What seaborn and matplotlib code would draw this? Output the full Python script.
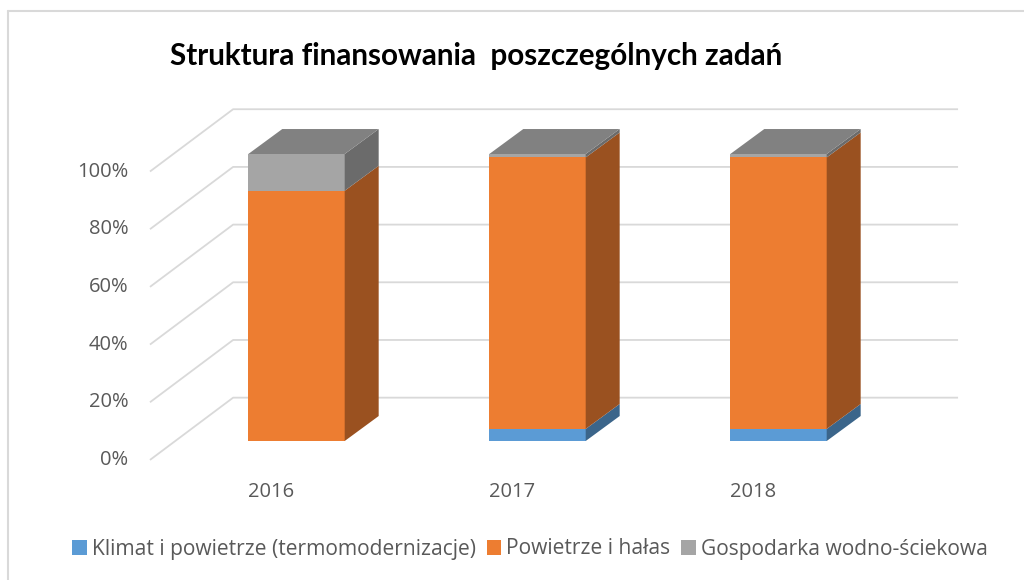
import matplotlib
matplotlib.use("Agg")
import matplotlib.pyplot as plt
import seaborn as sns
import numpy as np
from matplotlib.patches import Patch
from matplotlib.lines import Line2D

# -----------------------------
# Data (percent share per year)
# -----------------------------
years = ["2016", "2017", "2018"]
klimat = [0.0, 4.2, 4.2]
powietrze = [87.2, 94.6, 94.6]
gospodarka = [12.8, 1.2, 1.2]
series_names = ["Klimat i powietrze (termomodernizacje)", "Powietrze i hałas", "Gospodarka wodno-ściekowa"]
tick_values = [0, 20, 40, 60, 80, 100]
tick_labels = ["0%", "20%", "40%", "60%", "80%", "100%"]

colors = ["#5B9BD5", "#ED7D31", "#A5A5A5"]

sns.set_style("white")
plt.rcParams['font.family'] = ["Open Sans", "DejaVu Sans"]


def shade(c, k):
    r, g, b = matplotlib.colors.to_rgb(c)
    return (r * k, g * k, b * k)


fig = plt.figure(figsize=(10.24, 5.8), dpi=100)
ax = fig.add_axes([0, 0, 1, 1])

# pseudo-3D geometry (data units: x = category index, y = percent)
bar_w = 0.40
bar_dx, bar_dy = 0.141, 8.7        # depth of a bar
floor_dx, floor_dy = 0.345, 21.7   # depth of the whole floor
front_x, front_y = -0.608, -6.6    # front-left corner of the floor (0%)
label_dx = -0.107                  # bar front plane -> floor front edge
right_x = 2.745                    # right end of back wall
scale = 1.005                      # grid vs bar scale

# gridlines: left wall diagonal + back wall horizontal
for v, lab in zip(tick_values, tick_labels):
    y0 = front_y + v * scale
    ax.plot([front_x, front_x + floor_dx, right_x], [y0, y0 + floor_dy, y0 + floor_dy],
            color="#D9D9D9", lw=1.3, zorder=1, solid_capstyle="butt")
    ax.text(front_x - 0.09, y0, lab, ha="right", va="center",
            fontsize=14.5, color="#595959")

# front faces with seaborn (cumulative heights drawn back to front)
stack = np.array([klimat, powietrze, gospodarka])
cum = np.cumsum(stack, axis=0)
for i in range(len(series_names) - 1, -1, -1):
    sns.barplot(x=years, y=cum[i], color=colors[i], width=bar_w, saturation=1,
                errorbar=None, linewidth=0, ax=ax, zorder=3)

# side and top faces
for j in range(len(years)):
    xr = j + bar_w / 2
    xl = j - bar_w / 2
    bottoms = np.concatenate([[0], cum[:-1, j]])
    for i in range(len(series_names)):
        b, t = bottoms[i], cum[i, j]
        if t - b <= 0:
            continue
        ax.fill([xr, xr + bar_dx, xr + bar_dx, xr], [b, b + bar_dy, t + bar_dy, t],
                color=shade(colors[i], 0.65), lw=0, zorder=3)
    top = cum[-1, j]
    ax.fill([xl, xr, xr + bar_dx, xl + bar_dx], [top, top, top + bar_dy, top + bar_dy],
            color=shade(colors[-1], 0.78), lw=0, zorder=3)
    # category labels on the floor front
    ax.text(j + label_dx, -17.8, years[j],
            ha="center", va="center", fontsize=14.5, color="#595959")

ax.set_xlim(-296.5 / 241, (1024 - 296.5) / 241)
ax.set_ylim((441 - 580) / 2.87, 441 / 2.87)
ax.axis("off")

# title
fig.text(476 / 1024, 1 - 65 / 580, "Struktura finansowania  poszczególnych zadań",
         ha="center", va="baseline", fontsize=21.3, fontweight="bold", color="black",
         family=["Lato", "DejaVu Sans"])

# legend
handles = [Patch(facecolor=c, edgecolor="none") for c in colors]
fig.legend(handles, series_names, loc="center", bbox_to_anchor=(530 / 1024, 1 - 549 / 580),
           ncol=3, frameon=False, fontsize=15.1, labelcolor="#595959",
           handlelength=0.7, handleheight=0.7, handletextpad=0.25, columnspacing=0.5)

# chart frame (left and top edges visible)
fig.add_artist(Line2D([8 / 1024, 8 / 1024], [0, 1 - 11 / 580], color="#D9D9D9", lw=1.5))
fig.add_artist(Line2D([8 / 1024, 1], [1 - 11 / 580, 1 - 11 / 580], color="#D9D9D9", lw=1.5))

fig.savefig("out.png", dpi=100)
